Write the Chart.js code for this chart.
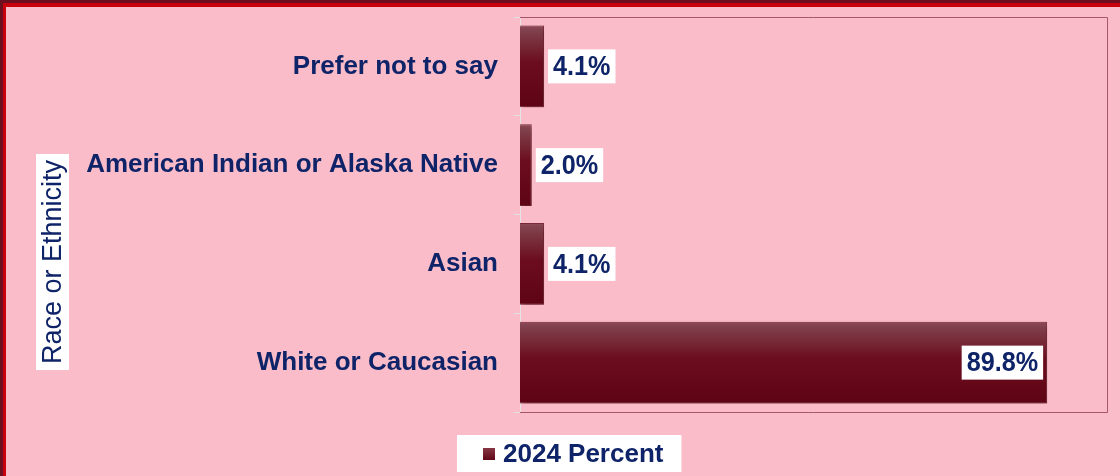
<!DOCTYPE html>
<html><head><meta charset="utf-8">
<script src="https://cdn.jsdelivr.net/npm/chart.js@4.4.1/dist/chart.umd.min.js"></script>
<style>html,body{margin:0;padding:0;background:#f9bcc8;}#wrap{width:1120px;height:476px;position:relative;}</style>
</head><body><div id="wrap"><canvas id="c" width="1120" height="476"></canvas></div>
<script>
const categories = ["Prefer not to say", "American Indian or Alaska Native", "Asian", "White or Caucasian"];
const percent2024 = [4.1, 2.0, 4.1, 89.8];
const seriesName = "2024 Percent";
const axisTitle = "Race or Ethnicity";
const xMax = 100;

const NAVY = '#0f2468';
const PINK = '#f9bcc8';
const CAT_PCT = 0.83;
const FONT = '"Liberation Sans", Arial, sans-serif';

const framePlugin = {
  id: 'frame',
  beforeDraw(chart) {
    const ctx = chart.ctx;
    ctx.save();
    ctx.fillStyle = PINK;
    ctx.fillRect(0, 0, chart.width, chart.height);
    ctx.restore();
  },
  afterDraw(chart) {
    const ctx = chart.ctx, a = chart.chartArea;
    ctx.save();
    ctx.strokeStyle = '#a8566c';
    ctx.lineWidth = 1;
    ctx.beginPath();
    ctx.moveTo(a.left, a.top + 0.5); ctx.lineTo(a.right + 0.5, a.top + 0.5);
    ctx.lineTo(a.right + 0.5, a.bottom + 0.5); ctx.lineTo(a.left, a.bottom + 0.5);
    ctx.stroke();
    ctx.fillStyle = '#c8000e';
    ctx.fillRect(0, 0, chart.width, 7);
    ctx.fillRect(0, 0, 6, chart.height);
    ctx.fillStyle = '#6c1020';
    ctx.fillRect(0, 0, chart.width, 3);
    ctx.fillRect(0, 0, 3, chart.height);
    // axis title
    ctx.translate(52.5, 262);
    ctx.rotate(-Math.PI / 2);
    ctx.font = '27px ' + FONT;
    const tw = ctx.measureText(axisTitle).width;
    ctx.fillStyle = '#ffffff';
    ctx.fillRect(-tw / 2 - 6, -16.5, tw + 12, 33);
    ctx.fillStyle = NAVY;
    ctx.textAlign = 'center';
    ctx.textBaseline = 'middle';
    ctx.fillText(axisTitle, 0, 1);
    ctx.restore();
    // legend
    ctx.save();
    ctx.font = 'bold 26px ' + FONT;
    const label = chart.data.datasets[0].label;
    const lw = ctx.measureText(label).width;
    const boxW = lw + 64, boxH = 37;
    const bx = 457, by = 435;
    ctx.fillStyle = '#ffffff';
    ctx.fillRect(bx, by, boxW, boxH);
    const g = ctx.createLinearGradient(0, by + 12, 0, by + 25);
    g.addColorStop(0, '#8a3a48'); g.addColorStop(1, '#620818');
    ctx.fillStyle = g;
    ctx.fillRect(bx + 26, by + 13, 12, 12);
    ctx.fillStyle = NAVY;
    ctx.textBaseline = 'middle';
    ctx.fillText(label, bx + 46, by + boxH / 2 + 1);
    ctx.restore();
  }
};

const labelPlugin = {
  id: 'barLabels',
  afterDatasetsDraw(chart) {
    const ctx = chart.ctx;
    const meta = chart.getDatasetMeta(0);
    const SX = 0.9;
    ctx.save();
    ctx.font = 'bold 28px ' + FONT;
    ctx.textBaseline = 'middle';
    ctx.textAlign = 'center';
    meta.data.forEach((bar, i) => {
      const v = chart.data.datasets[0].data[i];
      const txt = v.toFixed(1) + '%';
      const w = ctx.measureText(txt).width * SX + 10;
      const h = 34;
      let left;
      if (v > 50) left = bar.x - 4 - w; else left = bar.x + 4;
      ctx.fillStyle = '#ffffff';
      ctx.fillRect(left, bar.y - h / 2, w, h);
      ctx.fillStyle = NAVY;
      ctx.save();
      ctx.translate(left + w / 2, bar.y + 1);
      ctx.scale(SX, 1);
      ctx.fillText(txt, 0, 0);
      ctx.restore();
    });
    ctx.restore();
  }
};

const shadowPlugin = {
  id: 'barShadow',
  beforeDatasetsDraw(chart) {
    const ctx = chart.ctx;
    ctx.save();
    ctx.shadowColor = 'rgba(60,0,10,0.45)';
    ctx.shadowBlur = 5;
    ctx.shadowOffsetX = 2;
    ctx.shadowOffsetY = 3;
  },
  afterDatasetsDraw(chart) {
    chart.ctx.restore();
  }
};

function barGradient(context) {
  const chart = context.chart;
  const a = chart.chartArea;
  const ys = chart.scales && chart.scales.y;
  if (!a || !ys || context.dataIndex === undefined) return '#6a0a1a';
  const c = ys.getPixelForValue(context.dataIndex);
  const band = (a.bottom - a.top) / categories.length;
  const h = band * CAT_PCT;
  const top = c - h / 2, bot = c + h / 2;
  if (!isFinite(top) || !isFinite(bot)) return '#6a0a1a';
  const g = chart.ctx.createLinearGradient(0, top, 0, bot);
  g.addColorStop(0, '#8c4a55');
  g.addColorStop(0.08, '#7e3f4a');
  g.addColorStop(0.45, '#6c0d1e');
  g.addColorStop(1, '#5e0414');
  return g;
}

new Chart(document.getElementById('c'), {
  type: 'bar',
  data: {
    labels: categories,
    datasets: [{
      label: seriesName,
      data: percent2024,
      backgroundColor: barGradient,
      borderColor: '#7a2a38',
      borderWidth: 1,
      categoryPercentage: CAT_PCT,
      barPercentage: 1.0
    }]
  },
  options: {
    indexAxis: 'y',
    responsive: false,
    animation: false,
    devicePixelRatio: 1,
    layout: { padding: { top: 17, right: 13, bottom: 64, left: 0 } },
    plugins: { legend: { display: false }, tooltip: { enabled: false } },
    scales: {
      x: { display: false, min: 0, max: xMax },
      y: {
        afterFit(s) { s.width = 520; s.paddingTop = 0; s.paddingBottom = 0; },
        border: { display: true, color: '#e4e4e4', width: 1 },
        grid: { display: true, drawOnChartArea: false, drawTicks: true, tickLength: 6, color: '#e0e0e0', offset: true },
        ticks: {
          color: NAVY,
          padding: 16,
          font: { family: FONT, size: 26, weight: 'bold' }
        }
      }
    }
  },
  plugins: [framePlugin, shadowPlugin, labelPlugin]
});
</script>
</body></html>
